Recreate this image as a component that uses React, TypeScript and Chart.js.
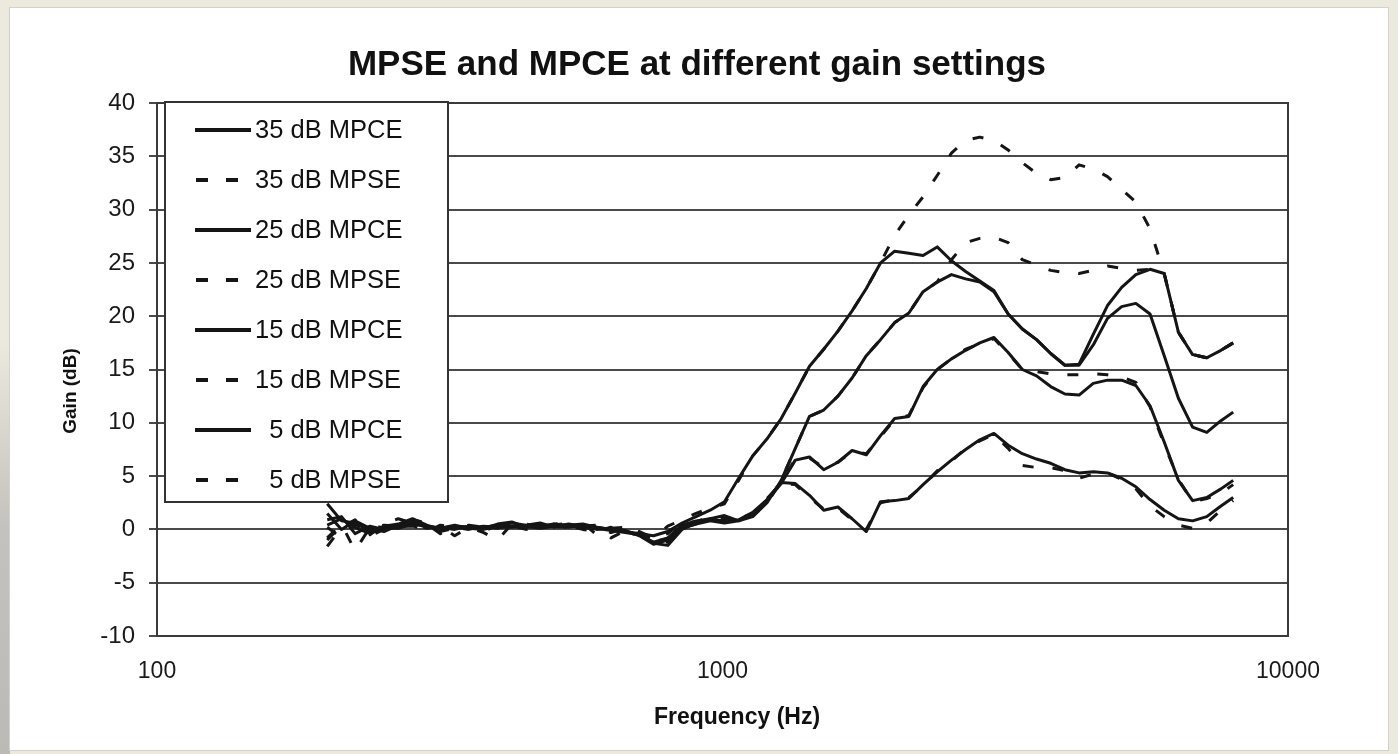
import React, { useEffect, useRef } from "react";
import { Chart, registerables } from "chart.js";

Chart.register(...registerables);

// Frequency grid (Hz) shared by all series
const freqHz = [
  200, 212, 224, 238, 252, 267, 283, 300, 317, 336, 356, 378, 400, 424, 449, 476, 504, 534, 566, 599,
  635, 673, 713, 755, 800, 848, 898, 951, 1008, 1068, 1131, 1199, 1270, 1345, 1425, 1510, 1600, 1695,
  1796, 1903, 2016, 2136, 2263, 2397, 2540, 2691, 2851, 3020, 3200, 3390, 3592, 3805, 4032, 4271, 4525,
  4795, 5080, 5382, 5702, 6041, 6400, 6781, 7184, 7611, 8000,
];

const gain35MPCE = [
  2.4, 0.8, 0.6, -0.2, 0.3, 0.5, 1.0, 0.4, 0.0, 0.2, 0.1, 0.0, 0.3, 0.6, 0.4, 0.3, 0.5, 0.4, 0.5, 0.2,
  0.0, -0.2, -0.4, -0.6, -0.2, 0.6,
  1.2, 1.8, 2.6, 4.8, 6.9, 8.5, 10.4, 12.8, 15.3, 16.9, 18.6, 20.5, 22.6, 25.0, 26.1, 25.9, 25.7, 26.5,
  25.2, 24.2, 23.3, 22.4, 20.2, 18.8, 17.8, 16.5, 15.4, 15.5, 18.3, 21.0, 22.7, 23.9, 24.4, 24.0, 18.5,
  16.4, 16.1, 16.8, 17.5,
];
const gain35MPSE = [
  -1.6, 0.2, 0.9, -0.5, 0.5, 1.0, 0.6, 0.1, 0.3, -0.6, 0.2, -0.3, -1.0, 0.5, 0.3, 0.5, 0.2, 0.3, 0.6, -0.5,
  0.1, 0.2, -0.3, -0.9, 0.3, 0.9,
  1.5, 2.0, 2.4, 4.6, 6.9, 8.5, 10.4, 12.8, 15.3, 16.9, 18.6, 20.5, 22.6, 25.0, 27.6, 29.5, 31.2, 33.2,
  35.3, 36.5, 36.8, 36.5, 35.6, 34.4, 33.4, 32.8, 33.0, 34.2, 33.8, 33.1, 31.9, 30.7, 28.2, 24.0, 18.5,
  16.4, 16.1, 16.8, 17.5,
];
const gain25MPCE = [
  0.9, 1.2, -0.4, 0.3, 0.0, 0.2, 0.8, 0.3, 0.1, 0.3, 0.2, 0.1, 0.5, 0.7, 0.2, 0.4, 0.3, 0.2, 0.4, 0.1,
  -0.1, -0.3, -0.5, -1.2, -0.8, 0.4,
  0.8, 1.0, 1.3, 0.8, 1.2, 2.5, 4.6, 7.6, 10.6, 11.2, 12.5, 14.2, 16.3, 17.8, 19.4, 20.3, 22.3, 23.2,
  23.9, 23.5, 23.2, 22.3, 20.2, 18.8, 17.8, 16.5, 15.4, 15.4, 17.3, 19.8, 20.9, 21.2, 20.2, 16.3, 12.3,
  9.6, 9.1, 10.2, 11.0,
];
const gain25MPSE = [
  -0.8, 0.5, -2.0, 0.2, 0.4, 0.3, 0.9, 0.6, -0.2, 0.1, 0.4, 0.2, 0.2, 0.4, 0.5, 0.2, 0.6, 0.1, 0.3, 0.4,
  -0.8, -0.1, -0.2, -0.8, -0.4, 0.7,
  0.7, 1.2, 1.1, 0.9, 1.3, 2.4, 4.6, 7.6, 10.6, 11.2, 12.5, 14.2, 16.3, 17.8, 19.4, 20.3, 22.3, 23.2,
  25.3, 26.9, 27.3, 27.4, 26.9, 25.3, 24.8, 24.3, 24.1, 24.0, 24.3, 24.7, 24.5, 24.3, 24.4, 24.0, 18.5,
  16.4, 16.1, 16.8, 17.5,
];
const gain15MPCE = [
  1.5, 0.0, 0.8, 0.1, -0.2, 0.4, 0.6, 0.2, 0.2, 0.0, 0.3, 0.2, 0.4, 0.3, 0.4, 0.6, 0.2, 0.5, 0.3, 0.0,
  0.1, -0.1, -0.6, -1.4, -1.0, 0.2,
  0.5, 0.8, 0.6, 0.8, 1.5, 2.7, 4.3, 6.5, 6.8, 5.6, 6.3, 7.4, 7.0, 8.8, 10.4, 10.6, 13.4, 15.0, 16.0,
  16.8, 17.5, 18.0, 16.6, 15.0, 14.4, 13.4, 12.7, 12.6, 13.7, 14.0, 14.0, 13.5, 11.6, 8.2, 4.6, 2.7,
  3.0, 3.8, 4.6,
];
const gain15MPSE = [
  0.2, -0.8, 0.4, 0.5, 0.1, 0.6, 0.4, -0.3, 0.4, 0.2, 0.0, 0.3, 0.1, 0.5, 0.2, 0.3, 0.4, 0.6, 0.2, 0.3,
  -0.3, 0.1, -0.4, -1.0, -1.2, 0.3,
  0.6, 0.7, 0.9, 1.0, 1.4, 2.8, 4.4, 6.6, 6.7, 5.8, 6.3, 7.3, 7.1, 8.7, 10.3, 10.7, 13.3, 15.0, 16.0,
  16.9, 17.4, 17.9, 16.5, 15.0, 14.8, 14.6, 14.5, 14.5, 14.6, 14.5, 14.3, 13.8, 11.5, 8.0, 4.7, 2.6,
  2.9, 3.4, 4.2,
];
const gain5MPCE = [
  0.4, 1.0, 0.2, -0.4, 0.2, 0.1, 0.5, 0.3, 0.1, 0.4, 0.1, 0.3, 0.2, 0.2, 0.3, 0.1, 0.3, 0.4, 0.1, 0.2,
  0.0, -0.2, -0.5, -1.3, -1.5, 0.0,
  0.6, 1.0, 0.7, 0.9, 1.6, 2.8, 4.4, 4.3, 3.2, 1.8, 2.1, 1.0, -0.2, 2.6, 2.7, 2.9, 4.2, 5.4, 6.5, 7.5,
  8.4, 9.0, 7.9, 7.1, 6.6, 6.2, 5.6, 5.3, 5.4, 5.3, 4.8, 4.0, 2.8, 1.8, 1.0, 0.8, 1.2, 2.2, 3.0,
];
const gain5MPSE = [
  -1.0, 0.4, 0.6, -0.6, 0.0, 0.3, 0.3, 0.5, -0.4, 0.3, 0.2, -0.2, 0.4, 0.3, 0.0, 0.2, 0.5, 0.3, 0.0, -0.2,
  0.2, -0.6, -0.3, -1.1, -0.9, 0.1,
  0.5, 0.9, 0.8, 1.0, 1.5, 2.9, 4.3, 4.2, 3.0, 1.9, 2.0, 0.9, 0.0, 2.5, 2.8, 3.0, 4.1, 5.5, 6.4, 7.6,
  8.3, 8.9, 7.6, 6.0, 5.8, 5.8, 5.5, 4.8, 5.2, 5.3, 4.7, 3.8, 2.2, 1.2, 0.4, 0.1, 0.6, 1.8, 2.7,
];

const seriesLabels = [
  "35 dB MPCE",
  "35 dB MPSE",
  "25 dB MPCE",
  "25 dB MPSE",
  "15 dB MPCE",
  "15 dB MPSE",
  "  5 dB MPCE",
  "  5 dB MPSE",
];
const seriesValues = [
  gain35MPCE, gain35MPSE, gain25MPCE, gain25MPSE, gain15MPCE, gain15MPSE, gain5MPCE, gain5MPSE,
];
const seriesDashed = [false, true, false, true, false, true, false, true];

const xTickValues = [100, 1000, 10000];
const yMin = -10;
const yMax = 40;
const yStep = 5;

const chartTitle = "MPSE and MPCE at different gain settings";
const xAxisTitle = "Frequency (Hz)";
const yAxisTitle = "Gain (dB)";

const FONT = '"Liberation Sans", Arial, Helvetica, sans-serif';
const INK = "#151515";
const DASH = [11, 19];

export default function App() {
  const ref = useRef<HTMLCanvasElement>(null);

  useEffect(() => {
    document.body.style.margin = "0";
    const canvas = ref.current!;

    const datasets = seriesLabels.map((label, s) => ({
      label,
      data: freqHz.map((f, i) => ({ x: f, y: seriesValues[s][i] })),
      borderColor: INK,
      backgroundColor: INK,
      borderWidth: 3,
      borderDash: seriesDashed[s] ? DASH : [],
      borderJoinStyle: "round" as const,
      pointRadius: 0,
      pointHoverRadius: 0,
      tension: 0,
      fill: false,
    }));

    const decor = {
      id: "decor",
      beforeDatasetsDraw(chart: any) {
        const { ctx, chartArea } = chart;
        ctx.save();
        ctx.strokeStyle = "#3a3a3a";
        ctx.lineWidth = 2;
        ctx.strokeRect(chartArea.left, chartArea.top, chartArea.right - chartArea.left, chartArea.bottom - chartArea.top);
        ctx.restore();
      },
      afterDraw(chart: any) {
        const { ctx, chartArea } = chart;
        ctx.save();
        // title
        ctx.fillStyle = "#111";
        ctx.textAlign = "center";
        ctx.textBaseline = "middle";
        ctx.font = `bold 35px ${FONT}`;
        ctx.fillText(chartTitle, 687, 57);
        // x axis title
        ctx.font = `bold 23px ${FONT}`;
        ctx.fillText(xAxisTitle, 727, 710);
        // y axis title
        ctx.save();
        ctx.translate(61, 383);
        ctx.rotate(-Math.PI / 2);
        ctx.font = `bold 19px ${FONT}`;
        ctx.fillText(yAxisTitle, 0, 0);
        ctx.restore();

        // legend box
        const bx = chartArea.left + 8;
        const by = chartArea.top - 1;
        const bw = 283;
        const bh = 400;
        ctx.fillStyle = "#ffffff";
        ctx.fillRect(bx, by, bw, bh);
        ctx.strokeStyle = "#333";
        ctx.lineWidth = 2;
        ctx.strokeRect(bx, by, bw, bh);
        ctx.font = `25.5px ${FONT}`;
        ctx.textAlign = "left";
        ctx.textBaseline = "middle";
        chart.data.datasets.forEach((ds: any, i: number) => {
          const cy = by + 28 + i * 50;
          ctx.beginPath();
          ctx.strokeStyle = INK;
          ctx.lineWidth = 4;
          if (seriesDashed[i]) {
            ctx.setLineDash([12, 18]);
            ctx.moveTo(bx + 31, cy);
            ctx.lineTo(bx + 77, cy);
          } else {
            ctx.setLineDash([]);
            ctx.moveTo(bx + 30, cy);
            ctx.lineTo(bx + 86, cy);
          }
          ctx.stroke();
          ctx.setLineDash([]);
          ctx.fillStyle = "#111";
          ctx.fillText(ds.label, bx + 90, cy + 1);
        });
        ctx.restore();
      },
    };

    const chart = new Chart(canvas, {
      type: "line",
      data: { datasets },
      options: {
        responsive: false,
        animation: false,
        events: [],
        layout: { padding: { top: 95, right: 100, bottom: 0, left: 0 } },
        plugins: {
          legend: { display: false },
          title: { display: false },
          tooltip: { enabled: false },
        },
        scales: {
          x: {
            type: "logarithmic",
            min: 100,
            max: 10000,
            afterBuildTicks: (scale: any) => {
              scale.ticks = xTickValues.map((v) => ({ value: v }));
            },
            afterFit: (scale: any) => {
              scale.height = 114;
            },
            grid: { display: false, drawTicks: false },
            border: { display: true, color: "#2a2a2a", width: 2 },
            ticks: {
              autoSkip: false,
              maxRotation: 0,
              padding: 22,
              color: "#1a1a1a",
              font: { family: FONT, size: 23 },
              callback: (v: any) => String(v),
            },
          },
          y: {
            type: "linear",
            min: yMin,
            max: yMax,
            afterFit: (scale: any) => {
              scale.width = 147;
            },
            grid: { color: "#4a4a4a", lineWidth: 2, tickLength: 8, drawTicks: true },
            border: { display: true, color: "#222", width: 2 },
            ticks: {
              stepSize: yStep,
              padding: 14,
              color: "#1a1a1a",
              font: { family: FONT, size: 24 },
            },
          },
        },
      },
      plugins: [decor],
    } as any);

    return () => chart.destroy();
  }, []);

  return (
    <div style={{ position: "fixed", inset: 0, background: "#ECE9DF", overflow: "hidden" }}>
      <div
        style={{
          position: "absolute",
          left: 0,
          top: 0,
          width: 10,
          height: 754,
          background: "linear-gradient(to bottom, #ECE9DF 0%, #ECE9DF 45%, #c4c2bc 70%, #bcbab4 100%)",
        }}
      />
      <div
        style={{
          position: "absolute",
          left: 10,
          top: 8,
          width: 1378,
          height: 742,
          background: "#ffffff",
          boxShadow: "0 0 0 1px #d4d2ca",
        }}
      >
        <canvas ref={ref} width={1378} height={742} style={{ display: "block", width: 1378, height: 742 }} />
      </div>
    </div>
  );
}
